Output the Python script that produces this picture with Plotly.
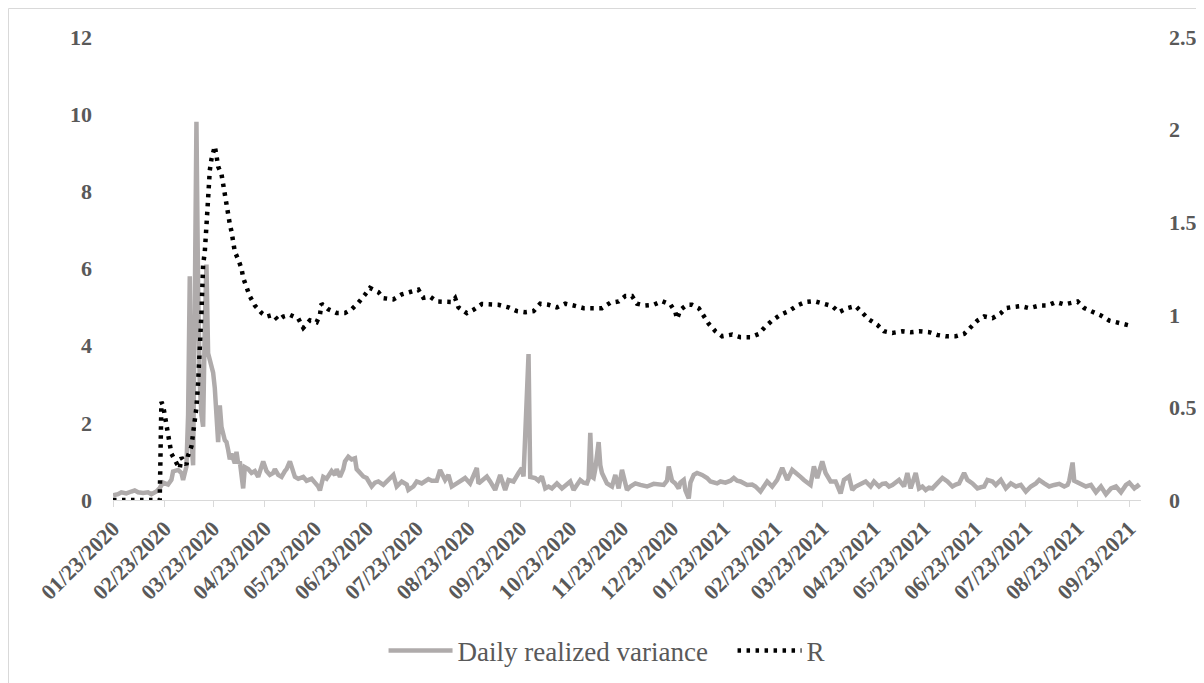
import plotly.graph_objects as go

# ---------------- data ----------------
var_days_2020 = ["01-23","01-26","01-28","01-31","02-03","02-05","02-07","02-10","02-13","02-15",
    "02-18","02-20","02-22","02-25","02-27","02-28","03-02","03-04","03-05","03-07",
    "03-08","03-09","03-10","03-11","03-12","03-13","03-14","03-15","03-16","03-17",
    "03-18","03-19","03-20","03-21","03-23","03-24","03-26","03-27","03-28","03-30",
    "03-31","04-01","04-02","04-03","04-05","04-06","04-07","04-08","04-10","04-11",
    "04-13","04-15","04-17","04-19","04-21","04-22","04-24","04-26","04-28","04-29",
    "05-01","05-03","05-05","05-06","05-08","05-10","05-11","05-13","05-16","05-18",
    "05-21","05-23","05-25","05-26","05-28","05-30","06-02","06-04","06-05","06-07",
    "06-09","06-10","06-12","06-14","06-16","06-17","06-19","06-21","06-23","06-26",
    "06-28","06-30","07-03","07-06","07-09","07-11","07-14","07-17","07-18","07-21",
    "07-23","07-26","07-30","08-01","08-04","08-06","08-09","08-11","08-13","08-16",
    "08-19","08-21","08-24","08-28","08-29","09-01","09-03","09-05","09-08","09-11",
    "09-14","09-16","09-19","09-22","09-24","09-25","09-28","09-29","10-02","10-04",
    "10-06","10-08","10-10","10-12","10-15","10-18","10-20","10-23","10-25","10-27",
    "10-29","10-31","11-02","11-03","11-04","11-05","11-06","11-07","11-09","11-10",
    "11-11","11-14","11-17","11-19","11-21","11-23","11-25","11-26","11-28","12-01",
    "12-04","12-08","12-12","12-15","12-18","12-20","12-21","12-23","12-25","12-27",
    "12-28","12-30","12-31"]
var_vals_2020 = [0.12,0.15,0.20,0.17,0.22,0.25,0.20,0.18,0.20,0.15,
    0.22,0.31,0.45,0.40,0.52,0.74,0.78,0.70,0.52,0.87,
    2.2,5.8,1.5,0.9,5.0,9.8,5.5,3.0,2.2,1.9,
    4.5,6.1,3.8,3.6,3.3,2.9,1.5,2.45,1.9,1.55,
    1.5,1.3,1.05,1.2,0.95,1.25,0.95,1.0,0.3,0.85,
    0.8,0.7,0.75,0.6,0.85,1.0,0.75,0.65,0.7,0.8,
    0.65,0.6,0.75,0.8,1.0,0.75,0.6,0.55,0.6,0.5,
    0.55,0.45,0.35,0.25,0.6,0.55,0.75,0.65,0.8,0.6,
    0.8,1.0,1.12,1.05,1.08,0.8,0.7,0.61,0.57,0.35,
    0.45,0.48,0.39,0.52,0.65,0.35,0.48,0.4,0.26,0.35,
    0.48,0.43,0.54,0.5,0.5,0.78,0.52,0.65,0.35,0.43,
    0.5,0.57,0.43,0.83,0.43,0.52,0.61,0.48,0.26,0.65,
    0.26,0.52,0.48,0.7,0.83,0.61,3.78,0.6,0.57,0.5,
    0.61,0.3,0.35,0.3,0.43,0.3,0.38,0.48,0.26,0.4,
    0.52,0.45,0.43,0.55,1.74,0.6,0.57,0.8,1.5,0.9,
    0.7,0.43,0.35,0.65,0.3,0.78,0.4,0.26,0.35,0.43,
    0.39,0.35,0.42,0.4,0.39,0.5,0.87,0.5,0.43,0.3,
    0.45,0.52,0.25]

var_days_2021 = ["01-02","01-03","01-05","01-07","01-10","01-13","01-15","01-19","01-21","01-24",
    "01-27","01-29","01-31","02-02","02-06","02-09","02-11","02-14","02-16","02-18",
    "02-21","02-24","02-27","03-02","03-05","03-08","03-10","03-12","03-14","03-16",
    "03-18","03-20","03-23","03-25","03-28","03-31","04-03","04-05","04-08","04-10",
    "04-12","04-14","04-16","04-18","04-21","04-23","04-26","04-28","04-30","05-02",
    "05-04","05-06","05-08","05-11","05-13","05-15","05-18","05-20","05-22","05-24",
    "05-26","05-28","05-31","06-03","06-06","06-09","06-11","06-13","06-16","06-18",
    "06-21","06-24","06-26","06-28","06-30","07-03","07-05","07-08","07-11","07-14",
    "07-17","07-20","07-23","07-26","07-29","07-31","08-03","08-06","08-09","08-12",
    "08-15","08-17","08-18","08-20","08-21","08-23","08-25","08-28","08-31","09-03",
    "09-06","09-09","09-12","09-15","09-18","09-21","09-23","09-26","09-28","09-29"]
var_vals_2021 = [0.04,0.45,0.65,0.7,0.65,0.57,0.48,0.43,0.48,0.45,
    0.5,0.57,0.5,0.48,0.39,0.4,0.35,0.22,0.35,0.48,
    0.35,0.52,0.83,0.52,0.78,0.65,0.6,0.52,0.45,0.39,
    0.87,0.57,1.0,0.7,0.48,0.48,0.17,0.52,0.61,0.26,
    0.35,0.39,0.42,0.48,0.35,0.48,0.35,0.42,0.43,0.35,
    0.39,0.45,0.52,0.35,0.7,0.3,0.7,0.3,0.35,0.26,
    0.32,0.3,0.45,0.57,0.48,0.35,0.4,0.43,0.7,0.52,
    0.43,0.3,0.33,0.35,0.52,0.48,0.39,0.52,0.3,0.43,
    0.35,0.39,0.22,0.35,0.43,0.52,0.43,0.35,0.39,0.42,
    0.35,0.39,0.5,0.97,0.5,0.45,0.43,0.35,0.39,0.2,
    0.35,0.15,0.3,0.35,0.2,0.39,0.45,0.3,0.37,0.32]

r_days_2020 = ["01-23","02-20","02-21","02-22","02-23","02-25","02-27","03-01","03-03","03-04",
    "03-07","03-08","03-10","03-11","03-13","03-14","03-15","03-16","03-17","03-18",
    "03-19","03-20","03-21","03-22","03-23","03-24","03-25","03-26","03-28","03-29",
    "03-30","03-31","04-01","04-02","04-03","04-04","04-05","04-07","04-09","04-10",
    "04-12","04-14","04-17","04-21","04-24","04-28","05-01","05-04","05-08","05-13",
    "05-16","05-20","05-24","05-26","05-27","05-31","06-05","06-10","06-14","06-18",
    "06-22","06-25","06-30","07-03","07-09","07-14","07-19","07-24","07-27","07-31",
    "08-04","08-08","08-13","08-15","08-17","08-22","08-26","08-31","09-05","09-10",
    "09-16","09-21","09-26","10-01","10-05","10-10","10-15","10-20","10-25","10-31",
    "11-05","11-11","11-16","11-21","11-25","11-29","12-02","12-07","12-12","12-17",
    "12-22","12-25","12-26","12-28"]
r_vals_2020 = [0.0,0.0,0.53,0.51,0.46,0.35,0.25,0.20,0.17,0.23,
    0.19,0.24,0.29,0.36,0.50,0.63,0.78,1.01,1.27,1.34,
    1.48,1.68,1.78,1.84,1.88,1.91,1.86,1.80,1.76,1.70,
    1.65,1.60,1.55,1.49,1.45,1.39,1.34,1.30,1.25,1.20,
    1.14,1.10,1.05,1.01,0.99,1.00,0.97,0.99,1.00,0.98,
    0.93,0.97,0.96,1.00,1.06,1.03,1.01,1.01,1.03,1.065,
    1.109,1.145,1.123,1.09,1.083,1.11,1.123,1.136,1.092,1.098,
    1.072,1.072,1.069,1.09,1.04,1.009,1.027,1.058,1.058,1.054,
    1.04,1.02,1.014,1.02,1.06,1.054,1.04,1.06,1.05,1.036,
    1.036,1.036,1.065,1.072,1.101,1.101,1.06,1.05,1.054,1.074,
    1.056,1.014,0.978,1.027]

r_days_2021 = ["01-01","01-04","01-08","01-11","01-14","01-18","01-22","01-28","02-02","02-08",
    "02-13","02-17","02-21","02-26","03-03","03-08","03-13","03-18","03-23","03-29",
    "04-02","04-07","04-12","04-16","04-20","04-25","04-29","05-04","05-10","05-15",
    "05-20","05-26","05-31","06-05","06-11","06-16","06-20","06-24","06-28","07-03",
    "07-08","07-11","07-15","07-20","07-25","07-31","08-05","08-10","08-15","08-19",
    "08-23","08-27","09-01","09-06","09-11","09-15","09-20","09-25"]
r_vals_2021 = [1.054,1.054,1.036,0.993,0.951,0.911,0.884,0.893,0.879,0.879,
    0.897,0.937,0.969,1.0,1.02,1.05,1.069,1.074,1.062,1.047,
    1.014,1.036,1.047,1.009,0.975,0.946,0.911,0.902,0.911,0.906,
    0.911,0.906,0.891,0.884,0.884,0.897,0.933,0.969,0.991,0.982,
    1.009,1.036,1.042,1.047,1.036,1.05,1.05,1.069,1.056,1.065,
    1.072,1.036,1.018,0.996,0.969,0.96,0.947,0.938]

var_dates = ["2020-" + d for d in var_days_2020] + ["2021-" + d for d in var_days_2021]
var_values = var_vals_2020 + var_vals_2021
r_dates = ["2020-" + d for d in r_days_2020] + ["2021-" + d for d in r_days_2021]
r_values = r_vals_2020 + r_vals_2021

x_range = ["2020-01-23", "2021-09-30"]
left_ticks = [0, 2, 4, 6, 8, 10, 12]
right_ticks = [0, 0.5, 1, 1.5, 2, 2.5]
right_tick_text = ["0", "0.5", "1", "1.5", "2", "2.5"]

# ---------------- figure ----------------
FONT = "Liberation Serif, Times New Roman, serif"
LABEL = "#595959"
GRID = "#d9d9d9"

fig = go.Figure()
fig.add_trace(go.Scatter(
    x=var_dates, y=var_values, name="Daily realized variance", mode="lines",
    line=dict(color="#AFABAB", width=4.5), yaxis="y"))
fig.add_trace(go.Scatter(
    x=r_dates, y=r_values, name="R", mode="lines",
    line=dict(color="#000000", width=4.5, dash="3.5px,5.5px"), yaxis="y2"))

# page body has an 8px margin, so the figure is sized 8px smaller
W, H = 1196, 675
ML, MR, MT, MB = 105, 63, 29, 183
PW, PH = W - ML - MR, H - MT - MB

fig.update_layout(
    width=W, height=H,
    paper_bgcolor="white", plot_bgcolor="white",
    margin=dict(l=ML, r=MR, t=MT, b=MB, autoexpand=False),
    font=dict(family=FONT, color=LABEL),
    xaxis=dict(
        type="date", range=x_range, tick0="2020-01-23", dtick="M1",
        tickformat="%m/%d/%Y", tickangle=-45, automargin=False,
        tickfont=dict(family=FONT, size=22, color=LABEL, weight="bold"),
        showgrid=False, zeroline=False, showline=True, linecolor=GRID, linewidth=1,
        ticks="outside", ticklen=6, tickcolor=GRID, tickwidth=1),
    yaxis=dict(
        range=[0, 12], tickvals=left_ticks, showgrid=False, zeroline=False,
        showline=False, ticks="", ticklabelstandoff=20, automargin=False,
        tickfont=dict(family=FONT, size=22, color=LABEL, weight="bold")),
    yaxis2=dict(
        range=[0, 2.5], tickvals=right_ticks, ticktext=right_tick_text,
        overlaying="y", side="right", showgrid=False, zeroline=False,
        showline=False, ticks="", ticklabelstandoff=27, automargin=False,
        tickfont=dict(family=FONT, size=22, color=LABEL, weight="bold")),
    legend=dict(
        orientation="h", xref="container", yref="container",
        x=0.314, xanchor="left", y=0.0474, yanchor="middle",
        font=dict(family=FONT, size=27, color=LABEL),
        itemwidth=64, entrywidth=270, bgcolor="rgba(0,0,0,0)"),
    showlegend=True,
)

# outer chart frame (light grey border as in the reference)
fig.add_shape(type="rect", xref="paper", yref="paper",
              x0=(0.5 - ML) / PW, x1=1.2, y0=-0.6, y1=(PH + MT - 0.5) / PH,
              line=dict(color=GRID, width=1), fillcolor="rgba(0,0,0,0)", layer="below")

fig.write_html("out.html")
